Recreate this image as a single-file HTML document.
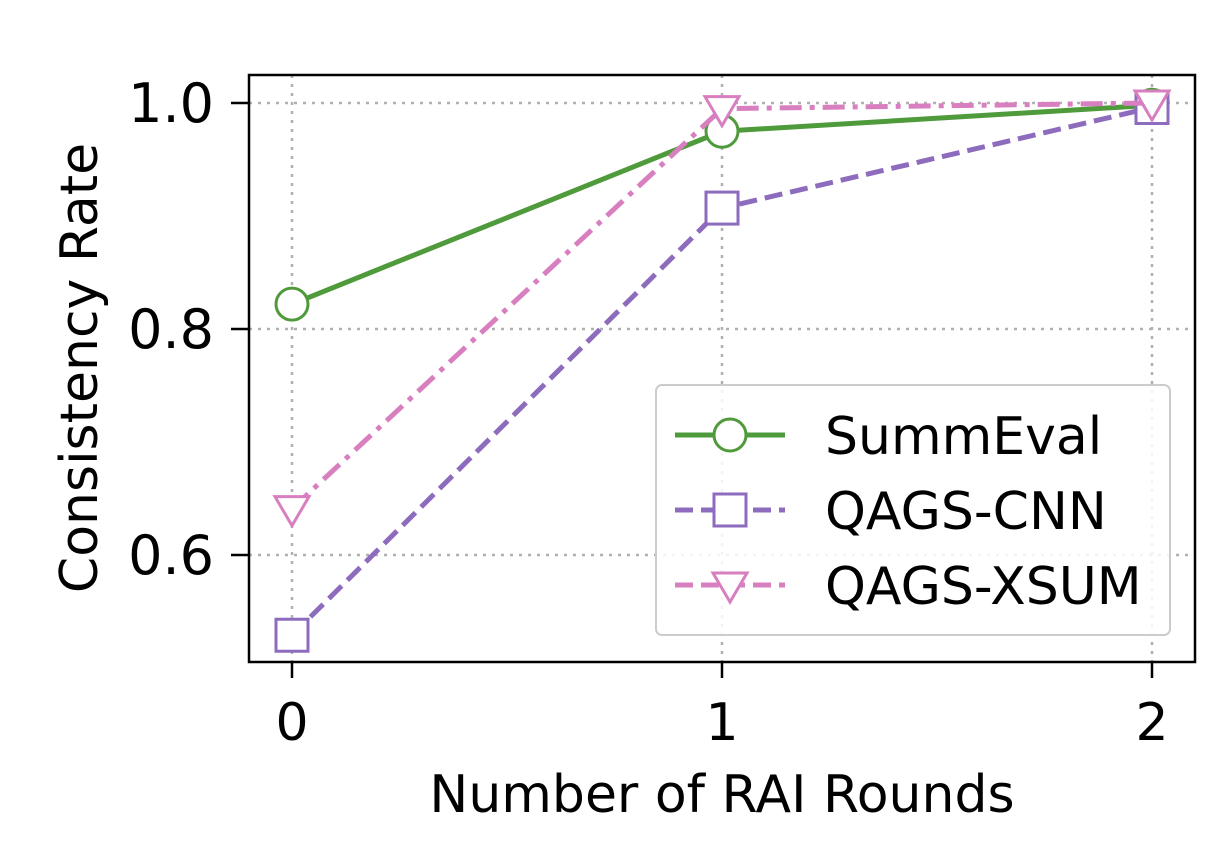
<!DOCTYPE html>
<html><head><meta charset="utf-8"><style>
body{margin:0;background:#fff;}
svg text{font-family:"DejaVu Sans","Liberation Sans",sans-serif;fill:#000;}
</style></head><body>
<svg id="chart" width="1228" height="854">
<rect x="0" y="0" width="1228" height="854" fill="#fff"/>
<g id="grid"></g>
<g id="series"></g>
<rect x="249" y="75" width="946" height="587" fill="none" stroke="#000" stroke-width="2.5"/>
<g id="ticks"></g>
<text x="722" y="812" font-size="52" text-anchor="middle">Number of RAI Rounds</text>
<text transform="translate(97,368) rotate(-90)" font-size="52" text-anchor="middle">Consistency Rate</text>
<g>
<rect x="656" y="385" width="514" height="250" rx="6" fill="#fff" fill-opacity="0.85" stroke="#ccc" stroke-width="2"/>
<g>
<line x1="675" y1="435" x2="785" y2="435" stroke="#4f9a3b" stroke-width="5"/>
<circle cx="730" cy="435" r="16" fill="#fff" stroke="#4f9a3b" stroke-width="3"/>
<text x="825" y="454" font-size="52">SummEval</text></g>
<g>
<line x1="675" y1="510" x2="785" y2="510" stroke="#8d6bbd" stroke-width="5" stroke-dasharray="18,8"/>
<rect x="714" y="494" width="32" height="32" fill="#fff" stroke="#8d6bbd" stroke-width="3"/>
<text x="825" y="529" font-size="52">QAGS-CNN</text></g>
<g>
<line x1="675" y1="585" x2="785" y2="585" stroke="#d87fc0" stroke-width="5" stroke-dasharray="18,8"/>
<polygon points="713,573 747,573 730,602" fill="#fff" stroke="#d87fc0" stroke-width="3"/>
<text x="825" y="604" font-size="52">QAGS-XSUM</text></g>
</g>
</svg>
<script>
const categories=[0,1,2];
const summeval=[0.822,0.975,0.998];
const qagsCnn=[0.529,0.907,0.996];
const qagsXsum=[0.641,0.995,1.0];
const yTicks=[0.6,0.8,1.0];
const yTickLabels=["0.6","0.8","1.0"];
const NS="http://www.w3.org/2000/svg";
const xs=v=>292+430*v;
const ys=v=>555-(v-0.6)*1130;
function mk(tag,attrs,parent){const e=document.createElementNS(NS,tag);for(const k in attrs)e.setAttribute(k,attrs[k]);document.getElementById(parent).appendChild(e);return e;}
categories.forEach((c,i)=>{
  const g=mk('line',{x1:xs(c),x2:xs(c),y1:75,y2:662,stroke:'#b0b0b0','stroke-width':2.5,'stroke-dasharray':'3,6'},'grid');
  
  
  const t=mk('line',{x1:xs(c),x2:xs(c),y1:662,y2:678,stroke:'#000','stroke-width':2.5},'ticks');
  
  
  const l=mk('text',{x:xs(c),y:740,'font-size':52,'text-anchor':'middle'},'ticks');l.textContent=String(c);
  
  
});
yTicks.forEach((v,i)=>{
  const g=mk('line',{x1:249,x2:1195,y1:ys(v),y2:ys(v),stroke:'#b0b0b0','stroke-width':2.5,'stroke-dasharray':'3,6'},'grid');
  
  
  const t=mk('line',{x1:231,x2:249,y1:ys(v),y2:ys(v),stroke:'#000','stroke-width':2.5},'ticks');
  
  
  const l=mk('text',{x:214,y:ys(v)+19,'font-size':54,'text-anchor':'end'},'ticks');l.textContent=yTickLabels[i];
  
  
});
function series(vals,color,dash,marker,name){
  const pts=vals.map((v,i)=>xs(categories[i])+','+ys(v)).join(' ');
  const pl=mk('polyline',{points:pts,fill:'none',stroke:color,'stroke-width':5,'stroke-dasharray':dash},'series');
  
  
  vals.forEach((v,i)=>{
    const x=xs(categories[i]),y=ys(v);let m;
    if(marker==='o')m=mk('circle',{cx:x,cy:y,r:16,fill:'#fff',stroke:color,'stroke-width':3},'series');
    else if(marker==='s')m=mk('rect',{x:x-16,y:y-16,width:32,height:32,fill:'#fff',stroke:color,'stroke-width':3},'series');
    else m=mk('polygon',{points:(x-17)+','+(y-12)+' '+(x+17)+','+(y-12)+' '+x+','+(y+17),fill:'#fff',stroke:color,'stroke-width':3},'series');
    
    
  });
}
series(summeval,'#4f9a3b','none','o','summeval');
series(qagsCnn,'#8d6bbd','18,8','s','qags-cnn');
series(qagsXsum,'#d87fc0','22,8,5,8','v','qags-xsum');
</script>
</body></html>
